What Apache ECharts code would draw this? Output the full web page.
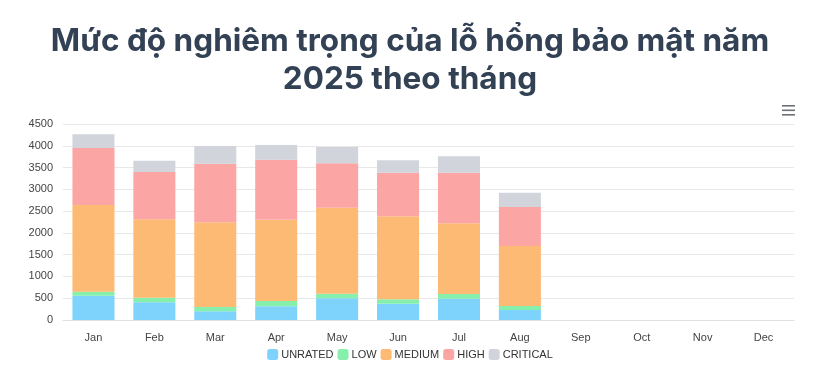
<!DOCTYPE html>
<html>
<head>
<meta charset="utf-8">
<script src="https://cdn.jsdelivr.net/npm/echarts@6/dist/echarts.min.js"></script>
<style>
  html, body { margin: 0; padding: 0; background: #fff; }
  #chart { width: 820px; height: 376px; }
</style>
</head>
<body>
<div id="chart"></div>
<script>
const months = ["Jan", "Feb", "Mar", "Apr", "May", "Jun", "Jul", "Aug", "Sep", "Oct", "Nov", "Dec"];

// số lượng lỗ hổng theo mức độ, mỗi tháng
const unrated  = [559, 406, 199, 314, 497, 375, 490, 230, 0, 0, 0, 0];
const low      = [91, 107, 99, 122, 108, 99, 107, 91, 0, 0, 0, 0];
const medium   = [1990, 1798, 1944, 1868, 1974, 1906, 1622, 1378, 0, 0, 0, 0];
const high     = [1309, 1087, 1347, 1377, 1018, 1003, 1164, 895, 0, 0, 0, 0];
const critical = [314, 260, 406, 337, 375, 283, 375, 329, 0, 0, 0, 0];

const chart = echarts.init(document.getElementById("chart"));

function mkSeries(name, data, color) {
  return {
    name: name,
    type: "bar",
    stack: "total",
    data: data,
    barWidth: "69%",
    itemStyle: { color: color },
    emphasis: { disabled: true }
  };
}

chart.setOption({
  animation: false,
  textStyle: { fontFamily: "Liberation Sans, Arial, sans-serif" },
  title: {
    text: "Mức độ nghiêm trọng của lỗ hổng bảo mật năm\n2025 theo tháng",
    left: "center",
    top: 18,
    textStyle: {
      fontFamily: "Inter, sans-serif",
      fontSize: 31.5,
      fontWeight: "bold",
      lineHeight: 38,
      color: "#334155"
    }
  },
  grid: { left: 63, right: 26, top: 124, bottom: 56 },
  legend: {
    bottom: 11,
    left: "center",
    itemWidth: 11,
    itemHeight: 11,
    itemGap: 4,
    icon: "roundRect",
    textStyle: { fontSize: 11, color: "#333", padding: [0, 0, 0, -2] },
    data: ["UNRATED", "LOW", "MEDIUM", "HIGH", "CRITICAL"]
  },
  xAxis: {
    type: "category",
    data: months,
    axisLine: { lineStyle: { color: "#e0e0e0" } },
    axisTick: { lineStyle: { color: "#e0e0e0" }, length: 6 },
    axisLabel: { color: "#444", fontSize: 11, margin: 12 }
  },
  yAxis: {
    type: "value",
    min: 0,
    max: 4500,
    interval: 500,
    axisLabel: { color: "#444", fontSize: 11, margin: 10, formatter: v => String(v) },
    splitLine: { lineStyle: { color: "#e8e8e8" } }
  },
  graphic: [
    { type: "rect", left: 782, top: 105, shape: { width: 13, height: 1.6 }, style: { fill: "#6e7079" } },
    { type: "rect", left: 782, top: 109.5, shape: { width: 13, height: 1.6 }, style: { fill: "#6e7079" } },
    { type: "rect", left: 782, top: 114, shape: { width: 13, height: 1.6 }, style: { fill: "#6e7079" } }
  ],
  series: [
    mkSeries("UNRATED", unrated, "#7dd3fc"),
    mkSeries("LOW", low, "#86efac"),
    mkSeries("MEDIUM", medium, "#fdba74"),
    mkSeries("HIGH", high, "#fca5a5"),
    mkSeries("CRITICAL", critical, "#d1d5db")
  ]
});
</script>
</body>
</html>
